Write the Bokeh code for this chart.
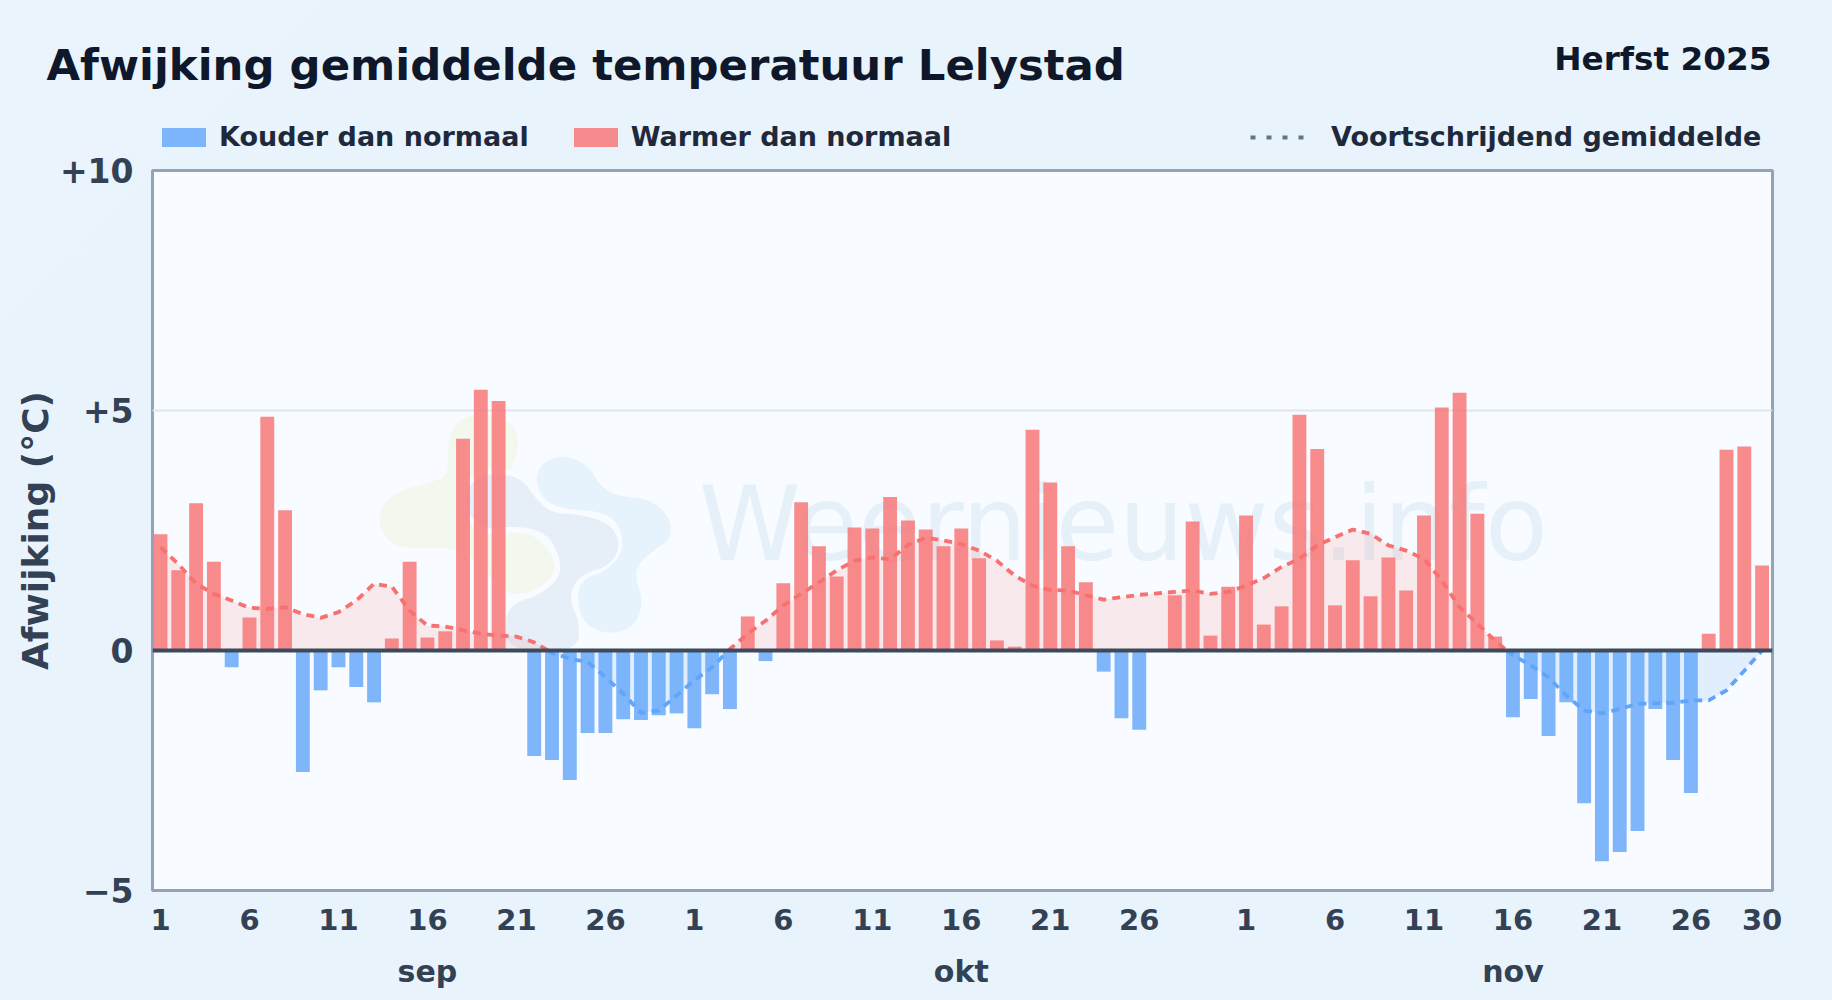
import numpy as np
from bokeh.plotting import figure
from bokeh.layouts import column
from bokeh.models import Range1d, FixedTicker, Label, Legend, LegendItem, Span, ColumnDataSource, LinearAxis
from bokeh.embed import file_html
from bokeh.resources import INLINE

sep_values = [2.42, 1.67, 3.07, 1.85, -0.35, 0.69, 4.87, 2.92, -2.53, -0.83,
              -0.35, -0.76, -1.08, 0.25, 1.85, 0.27, 0.40, 4.41, 5.43, 5.20,
              0.0, -2.20, -2.28, -2.70, -1.72, -1.72, -1.43, -1.45, -1.35, -1.31]
okt_values = [-1.62, -0.91, -1.22, 0.71, -0.22, 1.40, 3.09, 2.17, 1.54, 2.56,
              2.54, 3.20, 2.71, 2.52, 2.17, 2.54, 1.92, 0.21, 0.08, 4.60,
              3.50, 2.17, 1.42, -0.44, -1.41, -1.65, 0.0, 1.15, 2.69, 0.31, 1.33]
nov_values = [2.81, 0.54, 0.92, 4.91, 4.20, 0.94, 1.88, 1.13, 1.94, 1.25,
              2.81, 5.06, 5.37, 2.85, 0.29, -1.39, -1.01, -1.78, -1.08, -3.18,
              -4.39, -4.20, -3.76, -1.22, -2.28, -2.97, 0.35, 4.18, 4.25, 1.77]
moving_avg = [2.15, 1.80, 1.39, 1.18, 1.04, 0.89, 0.87, 0.90, 0.76, 0.68,
              0.80, 1.04, 1.39, 1.33, 0.83, 0.52, 0.50, 0.42, 0.35, 0.31,
              0.29, 0.17, -0.05, -0.17, -0.24, -0.55, -0.90, -1.30, -1.25, -0.94,
              -0.62, -0.35, 0.03, 0.35, 0.62, 0.94, 1.18, 1.42, 1.67, 1.87,
              1.94, 1.90, 2.20, 2.35, 2.29, 2.22, 2.08, 1.87, 1.56, 1.35,
              1.26, 1.25, 1.15, 1.06, 1.11, 1.16, 1.19, 1.22, 1.25, 1.18,
              1.22, 1.35, 1.51, 1.74, 1.91, 2.19, 2.36, 2.52, 2.43, 2.19,
              2.08, 1.91, 1.46, 0.90, 0.56, 0.20, -0.10, -0.31, -0.56, -0.94,
              -1.25, -1.31, -1.22, -1.11, -1.10, -1.09, -1.04, -1.04, -0.83, -0.42, 0.0]
x_tick_days = [1, 6, 11, 16, 21, 26, 1, 6, 11, 16, 21, 26, 1, 6, 11, 16, 21, 26, 30]
x_tick_index = [0, 5, 10, 15, 20, 25, 30, 35, 40, 45, 50, 55, 61, 66, 71, 76, 81, 86, 90]
y_tick_values = [-5, 0, 5, 10]
y_tick_labels = ["\u22125", "0", "+5", "+10"]
months = ["sep", "okt", "nov"]
month_index = [15, 45, 76]
legend_cold = "Kouder dan normaal"
legend_warm = "Warmer dan normaal"
legend_avg = "Voortschrijdend gemiddelde"
title_text = "Afwijking gemiddelde temperatuur Lelystad"
season_text = "Herfst 2025"
watermark_text = "Weernieuws.info"

values = np.array(sep_values + okt_values + nov_values)
avg = np.array(moving_avg)
idx = np.arange(len(values))

X = lambda px: (px - 160.0) / 17.79
Y = lambda py: (650.0 - py) / 48.05

FONT = "DejaVu Sans"
BG = "#f8fbff"
HEADER_H = 160
MAIN_TOP = 140   # page y where the main canvas starts; the header canvas overlaps it

# ---------- main chart ----------
p = figure(width=1832, height=1000 - MAIN_TOP, output_backend="svg", toolbar_location=None,
           x_range=Range1d(X(152), X(1771.5)), y_range=Range1d(-5, 10),
           min_border_left=152, min_border_right=60, min_border_top=170 - MAIN_TOP, min_border_bottom=110)
p.frame_align = False
p.background_fill_color = BG
p.border_fill_color = None
p.outline_line_color = "#94a3b8"
p.outline_line_width = 3

p.xgrid.visible = False
p.ygrid.ticker = FixedTicker(ticks=[5])
p.ygrid.grid_line_color = "#dfe6ec"
p.ygrid.grid_line_width = 2

p.xaxis.ticker = FixedTicker(ticks=x_tick_index)
p.xaxis.major_label_overrides = {i: str(d) for i, d in zip(x_tick_index, x_tick_days)}
p.yaxis.ticker = FixedTicker(ticks=y_tick_values)
p.yaxis.major_label_overrides = dict(zip(y_tick_values, y_tick_labels))
month_axis = LinearAxis(ticker=FixedTicker(ticks=month_index),
                        major_label_overrides=dict(zip(month_index, months)))
p.add_layout(month_axis, "below")
for ax in (p.xaxis[0], p.yaxis[0], month_axis):
    ax.axis_line_color = None
    ax.major_tick_line_color = None
    ax.minor_tick_line_color = None
    ax.major_label_text_font = FONT
    ax.major_label_text_font_style = "bold"
    ax.major_label_text_font_size = "29px"
    ax.major_label_text_color = "#334155"
p.yaxis.major_label_text_font_size = "33px"
month_axis.major_label_text_font_size = "30px"
p.xaxis[0].major_label_standoff = 12
month_axis.major_label_standoff = 15
p.yaxis.major_label_standoff = 13
p.yaxis.axis_label = "Afwijking (\u00b0C)"
p.yaxis.axis_label_text_font = FONT
p.yaxis.axis_label_text_font_style = "bold"
p.yaxis.axis_label_text_font_size = "36px"
p.yaxis.axis_label_text_color = "#334155"
p.yaxis.axis_label_standoff = 1

# ---------- watermark logo (decoration, outlines in crop pixels) ----------
logo_green = [(340, 45), (420, 70), (440, 130), (420, 190), (400, 225), (420, 380), (500, 420), (550, 480),
              (530, 550), (460, 575), (400, 570), (300, 450), (200, 430), (100, 440), (40, 400),
              (30, 330), (80, 280), (190, 250), (240, 230), (240, 110), (270, 60)]
logo_gray = [(380, 225), (450, 240), (490, 300), (540, 345), (640, 350), (720, 380), (742, 440), (710, 490),
             (640, 510), (600, 550), (590, 600), (620, 670), (615, 745), (420, 745), (410, 660),
             (430, 615), (510, 590), (570, 540), (580, 490), (550, 410), (490, 375), (410, 370),
             (350, 380), (300, 340), (290, 280), (320, 240)]
logo_blue = [(580, 170), (650, 200), (680, 260), (740, 295), (830, 300), (890, 350), (895, 410), (850, 440),
             (800, 480), (785, 530), (810, 600), (790, 670), (720, 695), (650, 670), (625, 600),
             (640, 540), (710, 520), (770, 450), (750, 360), (690, 325), (600, 320), (530, 300),
             (500, 240), (520, 190)]

def smooth(pts, n=3):
    pts = np.array(pts, dtype=float)
    for _ in range(n):
        nxt = np.roll(pts, -1, axis=0)
        pts = np.column_stack([0.75 * pts + 0.25 * nxt, 0.25 * pts + 0.75 * nxt]).reshape(-1, 2)
    return pts

def logo_patch(outline, col, width):
    s = smooth(outline)
    p.patch(X(370 + s[:, 0] / 3), Y(400 + s[:, 1] / 3), fill_color=col, line_color=col, line_width=width,
            line_join="round")

logo_patch(logo_green, "#f3f8ef", 5)
logo_patch(logo_gray, BG, 16)
logo_patch(logo_gray, "#e6eff7", 5)
logo_patch(logo_blue, "#e6f3fd", 5)

p.add_layout(Label(x=X(698), y=Y(523), text=watermark_text, text_font=FONT, text_font_size="103px",
                   text_color="#e6f0f9", text_baseline="alphabetic", level="underlay"))

# ---------- moving average ----------
xs, ys = [], []
for i in range(len(avg)):
    xs.append(float(i)); ys.append(float(avg[i]))
    if i + 1 < len(avg) and avg[i] * avg[i + 1] < 0:
        xs.append(i + avg[i] / (avg[i] - avg[i + 1])); ys.append(0.0)
xs, ys = np.array(xs), np.array(ys)
avg_src = ColumnDataSource(dict(
    x=xs,
    hi=np.where(ys >= 0, ys, np.nan),
    lo=np.where(ys <= 0, ys, np.nan),
    hi_f=np.clip(ys, 0, None),
    lo_f=np.clip(ys, None, 0),
    zero=np.zeros_like(ys),
))
p.varea(x="x", y1="zero", y2="hi_f", source=avg_src, fill_color="#f87171", fill_alpha=0.13)
p.varea(x="x", y1="zero", y2="lo_f", source=avg_src, fill_color="#60a5fa", fill_alpha=0.15)

# ---------- bars ----------
pos = values > 0
neg = values < 0
p.vbar(x=idx[pos], top=values[pos], bottom=0, width=0.78, fill_color="#f87171", fill_alpha=0.8, line_color=None)
p.vbar(x=idx[neg], top=0, bottom=values[neg], width=0.78, fill_color="#60a5fa", fill_alpha=0.8, line_color=None)

p.line("x", "hi", source=avg_src, line_color="#f87171", line_width=3.8, line_dash="8 6")
p.line("x", "lo", source=avg_src, line_color="#60a5fa", line_width=3.8, line_dash="8 6")

p.add_layout(Span(location=0, dimension="width", line_color="#3d4a5c", line_width=4, level="overlay"))

# ---------- header: title and legends ----------
h = figure(width=1832, height=HEADER_H, output_backend="svg", toolbar_location=None,
           x_range=Range1d(0, 1832), y_range=Range1d(HEADER_H, 0), x_axis_type=None, y_axis_type=None,
           min_border=0)
h.frame_align = False
h.margin = (0, 0, MAIN_TOP - HEADER_H, 0)
h.background_fill_color = None
h.border_fill_color = None
h.outline_line_color = None
h.grid.visible = False

sw_cold = h.vbar(x=[np.nan], top=[np.nan], bottom=0, width=1, fill_color="#60a5fa", fill_alpha=0.8, line_color=None)
sw_warm = h.vbar(x=[np.nan], top=[np.nan], bottom=0, width=1, fill_color="#f87171", fill_alpha=0.8, line_color=None)
sw_avg = h.line([np.nan], [np.nan], line_color="#64748b", line_width=4, line_dash="5 11")

legend_opts = dict(orientation="horizontal", padding=0, margin=0, background_fill_color=None,
                   background_fill_alpha=0, border_line_color=None, glyph_height=24,
                   label_text_font=FONT, label_text_font_style="bold", label_text_font_size="27px",
                   label_text_color="#1e293b")
h.add_layout(Legend(items=[LegendItem(label=legend_cold, renderers=[sw_cold]),
                           LegendItem(label=legend_warm, renderers=[sw_warm])],
                    location=(156, 8), spacing=39, label_standoff=8, glyph_width=55, **legend_opts))
h.add_layout(Legend(items=[LegendItem(label=legend_avg, renderers=[sw_avg])],
                    location=(1250, 8), spacing=0, label_standoff=24, glyph_width=57, **legend_opts))

h.add_layout(Label(x=46, y=79 - 15, text=title_text, text_font=FONT, text_font_style="bold",
                   text_font_size="43.4px", text_color="#0f172a", text_baseline="alphabetic"))
h.add_layout(Label(x=1771, y=69.5 - 11, text=season_text, text_font=FONT, text_font_style="bold",
                   text_font_size="32.7px", text_color="#0f172a", text_align="right",
                   text_baseline="alphabetic"))

page = column(h, p, spacing=0)
html = file_html(page, INLINE)
html = html.replace("</head>", "<style>html,body{background:linear-gradient(135deg,#ebf4fc,#e8f3fc 25%);"
                               "min-height:100%;overflow:hidden}</style></head>", 1)
open("out.html", "w").write(html)
